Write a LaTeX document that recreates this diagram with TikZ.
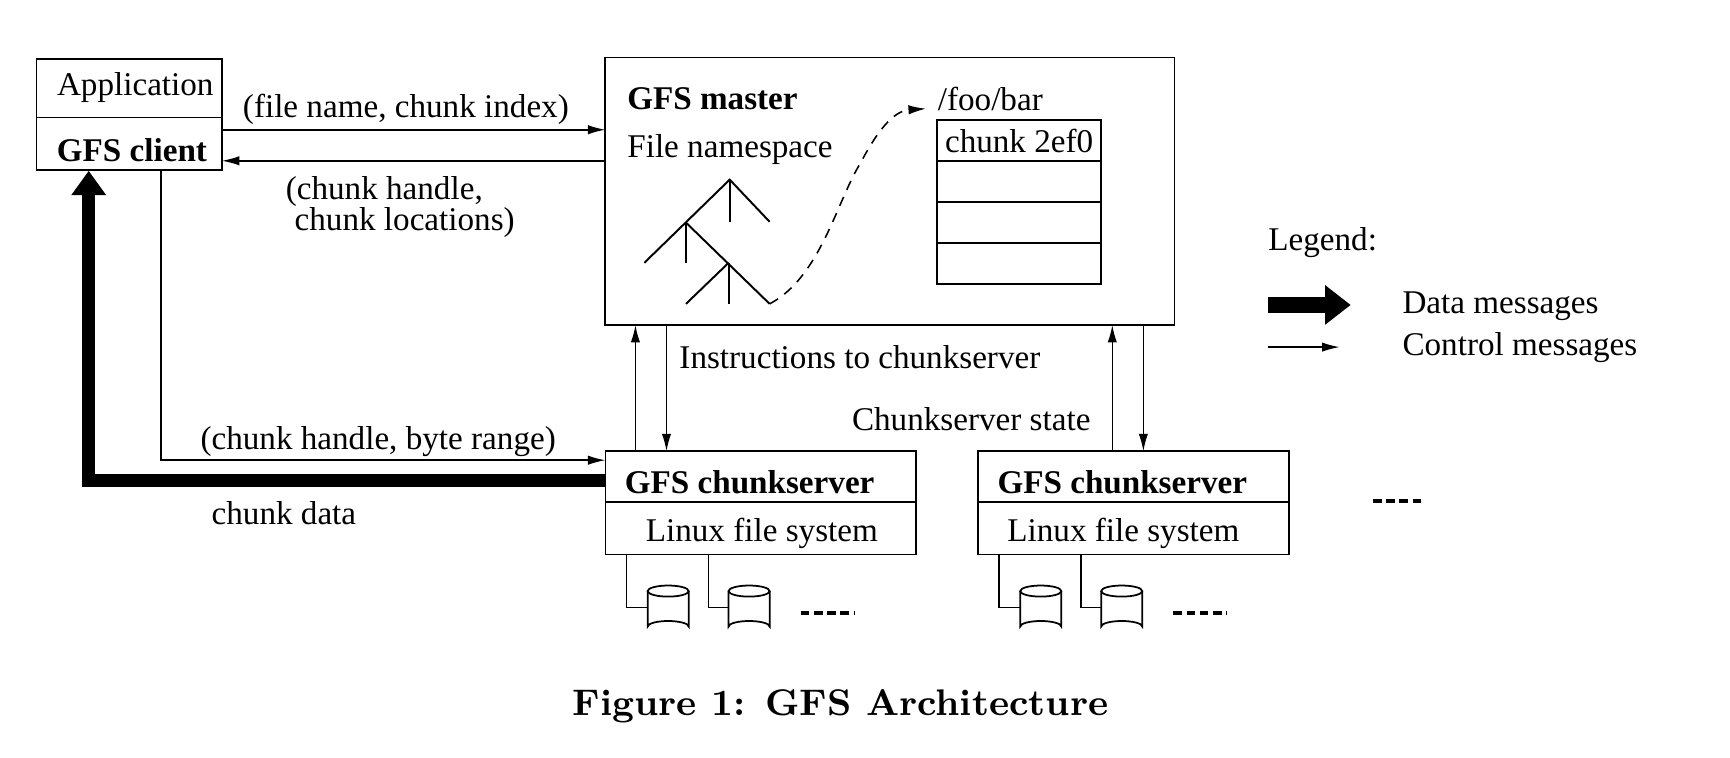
\documentclass[tikz,border=0pt]{standalone}
\usepackage{fontspec}
\setmainfont{Liberation Serif}
\newfontfamily\lmr{Latin Modern Roman}
\usetikzlibrary{arrows.meta}
\begin{document}
\begin{tikzpicture}[x=0.01cm,y=-0.01cm,
  box/.style={draw,line width=0.45pt,inner sep=0pt},
  lbl/.style={inner sep=0pt,font=\fontsize{8.5}{10}\selectfont},
  ctl/.style={line width=0.4pt,-{Latex[length=4.5pt,width=2.4pt]}},
  dat/.style={line width=3.4pt,-{Triangle[length=0.22cm,width=0.3cm]}},
  dots/.style={line width=1.1pt,dash pattern=on 2.2pt off 1.2pt},
  font=\fontsize{8.5}{10}\selectfont]
\useasboundingbox (0,0) rectangle (1560,683);
% client
\node[box,minimum width=1.67cm,minimum height=0.53cm] (app) at (116.5,79.5) {};
\node[box,minimum width=1.67cm,minimum height=0.47cm] (cli) at (116.5,129.5) {};
\node[lbl] at (122,79) {Application};
\node[lbl] at (119,135) {\bfseries GFS client};
% master
\node[box,minimum width=5.13cm,minimum height=2.41cm] (mas) at (802.5,172.5) {};
\node[lbl,anchor=west] at (565,89) {\bfseries GFS master};
\node[lbl,anchor=west] at (565,135) {File namespace};
\node[lbl,anchor=west] (foo) at (845,89) {/foo/bar};
\foreach \i/\y in {1/126.5,2/163.5,3/200.5,4/237.5}
  \node[box,minimum width=1.48cm,minimum height=0.37cm] (row\i) at (919,\y) {};
\node[lbl] at (919,127) {chunk 2ef0};
% tree
\draw[line width=0.5pt] (581,237) -- (658,162) -- (694,200);
\draw[line width=0.5pt] (658,162) -- (658,200);
\draw[line width=0.5pt] (618.6,200.8) -- (618.6,237);
\draw[line width=0.5pt] (618.6,200.8) -- (694,274);
\draw[line width=0.5pt] (657,237) -- (618.6,274);
\draw[line width=0.5pt] (657,237) -- (657,274);
\coordinate (tleaf) at (694,274);
\coordinate (ftip) at (835,98);
\draw[line width=0.4pt,dash pattern=on 2.5pt off 2pt,-{Latex[length=4.5pt,width=2.4pt]}]
  (tleaf) .. controls (740,250) and (755,180) .. (776,147) .. controls (790,120) and (805,100) .. (ftip);
% client <-> master
\draw[ctl] (200,117) -- (546,117);
\node[lbl] at (366,99) {(file name, chunk index)};
\draw[ctl] (546,145) -- (200,145);
\node[lbl,anchor=west] at (257,173) {(chunk handle,};
\node[lbl,anchor=west] at (265,201) {chunk locations)};
% chunkservers
\node[box,minimum width=2.8cm,minimum height=0.46cm] (cs1) at (686,430) {};
\node[box,minimum width=2.8cm,minimum height=0.47cm] (fs1) at (686,476.5) {};
\node[box,minimum width=2.8cm,minimum height=0.46cm] (cs2) at (1022,430) {};
\node[box,minimum width=2.8cm,minimum height=0.47cm] (fs2) at (1022,476.5) {};
\node[lbl] at (676,435) {\bfseries GFS chunkserver};
\node[lbl] at (687,481) {Linux file system};
\node[lbl] at (1012,435) {\bfseries GFS chunkserver};
\node[lbl] at (1013,481) {Linux file system};
% client -> cs1
\draw[ctl] (145,153) -- (145,415) -- (546,415);
\node[lbl] at (341,398) {(chunk handle, byte range)};
\draw[dat] (546,433) -- (80,433) -- (80,154);
\node[lbl] at (256,463) {chunk data};
% master <-> chunkservers
\draw[ctl] (573,407) -- (573,293);
\draw[ctl] (601,293) -- (601,407);
\node[lbl,anchor=west] at (612,322) {Instructions to chunkserver};
\draw[ctl] (1003,407) -- (1003,293);
\draw[ctl] (1031,293) -- (1031,407);
\node[lbl,anchor=east] at (984,378) {Chunkserver state};
\draw[dots] (1238,452) -- (1283,452);
% disks
\foreach \o in {0,336}{
  \foreach \lx/\cx in {565/602.5,639/675.5}{
    \draw[line width=0.4pt] (\lx+\o,500) -- (\lx+\o,548) -- (\cx+\o-18.5,548);
    \draw[line width=0.45pt,fill=white] (\cx+\o-18.5,533) -- (\cx+\o-18.5,565)
      arc[start angle=180,end angle=360,x radius=18.5,y radius=5] -- (\cx+\o+18.5,533);
    \draw[line width=0.45pt] (\cx+\o,533) ellipse [x radius=18.5,y radius=5];
  }
  \draw[dots] (722+\o,553) -- (770+\o,553);
}
% legend
\node[lbl,anchor=west] at (1143,219) {Legend:};
\draw[line width=4pt,-{Triangle[length=0.23cm,width=0.34cm]}] (1143,275) -- (1218,275);
\draw[ctl] (1143,313) -- (1208,313);
\node[lbl,anchor=west] at (1264,276) {Data messages};
\node[lbl,anchor=west] at (1264,313) {Control messages};
% caption
\node[lbl,font=\lmr\bfseries\fontsize{9.5}{11}\selectfont] at (758,637) {Figure 1: GFS Architecture};
\end{tikzpicture}
\end{document}
